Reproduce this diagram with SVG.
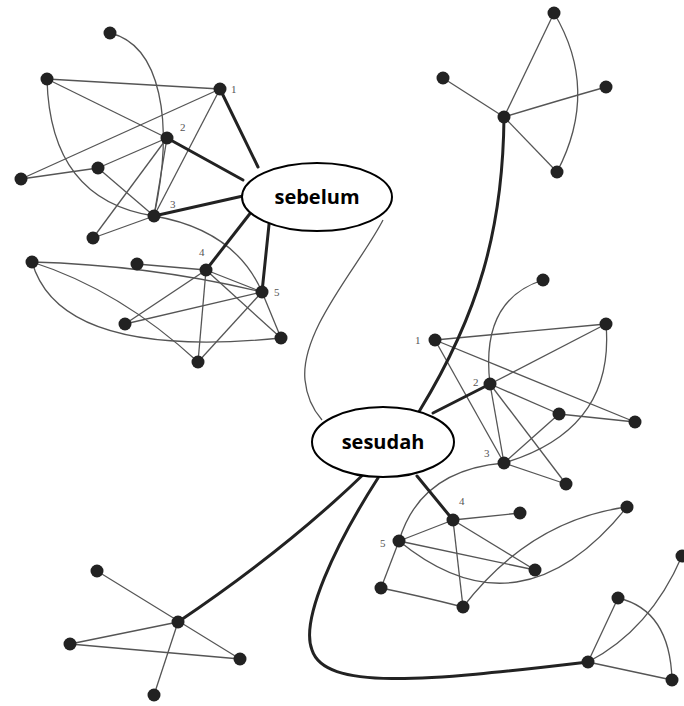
<svg xmlns="http://www.w3.org/2000/svg" width="684" height="706" viewBox="0 0 684 706">
<style>
.e{fill:none;stroke:#555;stroke-width:1.3}
.t{fill:none;stroke:#222;stroke-width:3;stroke-linecap:round}
.n{fill:#222}
.lb{font-family:"Liberation Serif",serif;font-size:11px;fill:#555}
.el{fill:#fff;stroke:#000;stroke-width:2}
.tx{font-family:"Open Sans","Liberation Sans",sans-serif;font-weight:bold;font-size:20px;fill:#000;text-anchor:middle}
</style>
<rect width="684" height="706" fill="#fff"/>
<g id="connectors">
<path class="e" d="M110,33 C160,45 175,120 154,216"/>
<path class="e" d="M47,79 L220,89"/>
<path class="e" d="M47,79 L167,138"/>
<path class="e" d="M47,79 Q50,200 154,216"/>
<path class="e" d="M220,89 L21,179"/>
<path class="e" d="M220,89 L154,216"/>
<path class="e" d="M167,138 L98,168"/>
<path class="e" d="M167,138 L154,216"/>
<path class="e" d="M167,138 L93,238"/>
<path class="e" d="M21,179 L98,168"/>
<path class="e" d="M98,168 L154,216"/>
<path class="e" d="M154,216 L93,238"/>
<path class="e" d="M154,216 Q235,230 262,292"/>
<path class="e" d="M32,262 Q150,265 262,292"/>
<path class="e" d="M32,262 Q60,360 281,338"/>
<path class="e" d="M32,262 Q120,290 198,362"/>
<path class="e" d="M137,264 L206,270"/>
<path class="e" d="M125,324 L206,270"/>
<path class="e" d="M125,324 L262,292"/>
<path class="e" d="M206,270 L198,362"/>
<path class="e" d="M206,270 L262,292"/>
<path class="e" d="M206,270 L281,338"/>
<path class="e" d="M262,292 L281,338"/>
<path class="e" d="M198,362 L262,292"/>
<path class="t" d="M220,89 L258,167"/>
<path class="t" d="M167,138 L243,180"/>
<path class="t" d="M154,216 L243,196"/>
<path class="t" d="M206,270 L252,211"/>
<path class="t" d="M262,292 L270,215"/>
<path class="e" d="M383,220 C360,265 300,330 305,380 C307,400 315,412 322,420"/>
<path class="e" d="M504,117 L554,13"/>
<path class="e" d="M504,117 L443,78"/>
<path class="e" d="M504,117 Q560,100 606,87"/>
<path class="e" d="M504,117 L557,172"/>
<path class="e" d="M554,13 Q600,90 557,172"/>
<path class="e" d="M435,340 L606,324"/>
<path class="e" d="M435,340 L504,463"/>
<path class="e" d="M435,340 L635,422"/>
<path class="e" d="M543,280 Q480,300 490,384"/>
<path class="e" d="M606,324 L490,384"/>
<path class="e" d="M606,324 Q615,430 504,463"/>
<path class="e" d="M490,384 L559,414"/>
<path class="e" d="M490,384 L504,463"/>
<path class="e" d="M490,384 L566,484"/>
<path class="e" d="M559,414 L635,422"/>
<path class="e" d="M504,463 L559,414"/>
<path class="e" d="M504,463 L566,484"/>
<path class="e" d="M504,463 Q420,470 399,541"/>
<path class="e" d="M453,520 L520,513"/>
<path class="e" d="M453,520 L399,541"/>
<path class="e" d="M453,520 L535,570"/>
<path class="e" d="M453,520 L463,607"/>
<path class="e" d="M399,541 L535,570"/>
<path class="e" d="M399,541 Q520,640 627,507"/>
<path class="e" d="M627,507 Q530,520 463,607"/>
<path class="e" d="M399,541 L381,588"/>
<path class="e" d="M381,588 Q420,596 463,607"/>
<path class="e" d="M97,571 L240,659"/>
<path class="e" d="M70,644 L178,622"/>
<path class="e" d="M70,644 L240,659"/>
<path class="e" d="M178,622 L154,695"/>
<path class="e" d="M588,662 L618,598"/>
<path class="e" d="M588,662 L672,680"/>
<path class="e" d="M618,598 Q670,610 672,680"/>
<path class="e" d="M588,662 Q650,630 682,556"/>
<path class="t" d="M504,117 C503,230 478,315 420,410 C390,455 300,540 178,622"/>
<path class="t" d="M378,478 C335,545 300,620 312,650 C325,690 420,682 588,662"/>
<path class="t" d="M433,413 L490,384"/>
<path class="t" d="M417,476 L453,520"/>
</g>
<g id="nodes-top-left">
<circle class="n" cx="110" cy="33" r="6.5"/>
<circle class="n" cx="47" cy="79" r="6.5"/>
<circle class="n" cx="220" cy="89" r="6.5"/>
<circle class="n" cx="167" cy="138" r="6.5"/>
<circle class="n" cx="98" cy="168" r="6.5"/>
<circle class="n" cx="21" cy="179" r="6.5"/>
<circle class="n" cx="154" cy="216" r="6.5"/>
<circle class="n" cx="93" cy="238" r="6.5"/>
<circle class="n" cx="32" cy="262" r="6.5"/>
<circle class="n" cx="137" cy="264" r="6.5"/>
<circle class="n" cx="206" cy="270" r="6.5"/>
<circle class="n" cx="262" cy="292" r="6.5"/>
<circle class="n" cx="125" cy="324" r="6.5"/>
<circle class="n" cx="281" cy="338" r="6.5"/>
<circle class="n" cx="198" cy="362" r="6.5"/>
<text class="lb" x="231" y="93">1</text>
<text class="lb" x="180" y="131">2</text>
<text class="lb" x="170" y="208">3</text>
<text class="lb" x="199" y="256">4</text>
<text class="lb" x="274" y="296">5</text>
</g>
<g id="nodes-top-right">
<circle class="n" cx="504" cy="117" r="6.5"/>
<circle class="n" cx="554" cy="13" r="6.5"/>
<circle class="n" cx="443" cy="78" r="6.5"/>
<circle class="n" cx="606" cy="87" r="6.5"/>
<circle class="n" cx="557" cy="172" r="6.5"/>
</g>
<g id="nodes-middle-right">
<circle class="n" cx="435" cy="340" r="6.5"/>
<circle class="n" cx="543" cy="280" r="6.5"/>
<circle class="n" cx="606" cy="324" r="6.5"/>
<circle class="n" cx="490" cy="384" r="6.5"/>
<circle class="n" cx="559" cy="414" r="6.5"/>
<circle class="n" cx="635" cy="422" r="6.5"/>
<circle class="n" cx="504" cy="463" r="6.5"/>
<circle class="n" cx="566" cy="484" r="6.5"/>
<circle class="n" cx="453" cy="520" r="6.5"/>
<circle class="n" cx="520" cy="513" r="6.5"/>
<circle class="n" cx="627" cy="507" r="6.5"/>
<circle class="n" cx="399" cy="541" r="6.5"/>
<circle class="n" cx="535" cy="570" r="6.5"/>
<circle class="n" cx="381" cy="588" r="6.5"/>
<circle class="n" cx="463" cy="607" r="6.5"/>
<text class="lb" x="415" y="344">1</text>
<text class="lb" x="473" y="386">2</text>
<text class="lb" x="484" y="457">3</text>
<text class="lb" x="459" y="505">4</text>
<text class="lb" x="380" y="547">5</text>
</g>
<g id="nodes-bottom-left">
<circle class="n" cx="178" cy="622" r="6.5"/>
<circle class="n" cx="97" cy="571" r="6.5"/>
<circle class="n" cx="70" cy="644" r="6.5"/>
<circle class="n" cx="240" cy="659" r="6.5"/>
<circle class="n" cx="154" cy="695" r="6.5"/>
</g>
<g id="nodes-bottom-right">
<circle class="n" cx="588" cy="662" r="6.5"/>
<circle class="n" cx="618" cy="598" r="6.5"/>
<circle class="n" cx="672" cy="680" r="6.5"/>
<circle class="n" cx="682" cy="556" r="6.5"/>
</g>
<g id="sebelum">
<ellipse class="el" cx="317" cy="197" rx="75" ry="34"/>
<text class="tx" x="317" y="204">sebelum</text>
</g>
<g id="sesudah">
<ellipse class="el" cx="383" cy="442" rx="71" ry="35"/>
<text class="tx" x="383" y="449">sesudah</text>
</g>
</svg>
